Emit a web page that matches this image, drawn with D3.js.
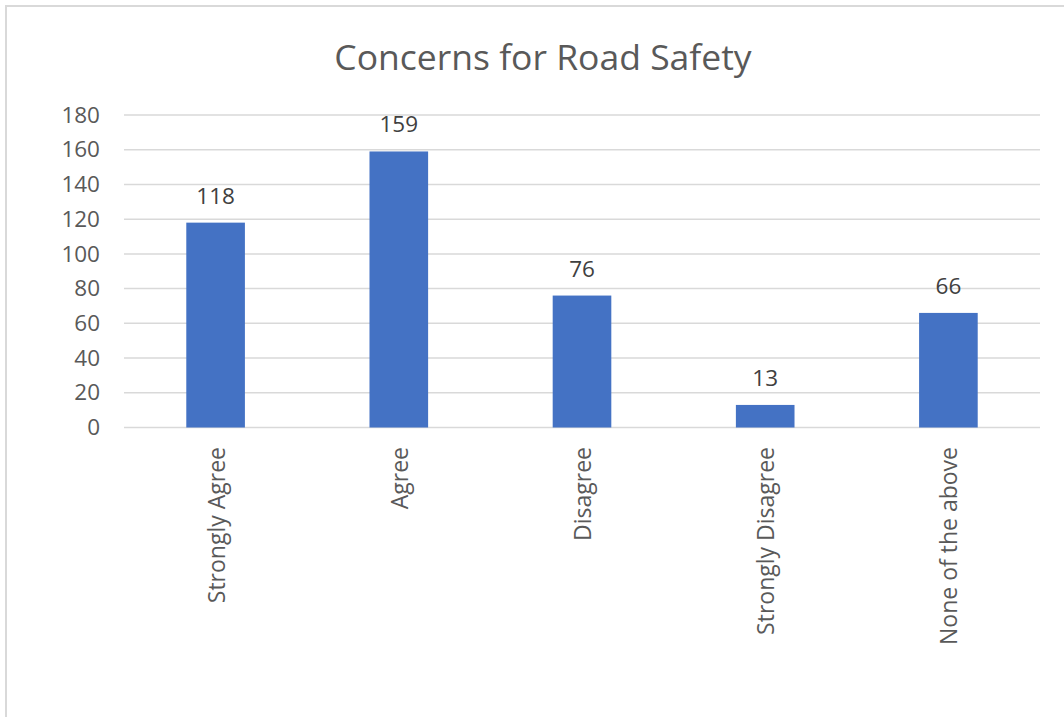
<!DOCTYPE html>
<html>
<head>
<meta charset="utf-8">
<script src="https://cdn.jsdelivr.net/npm/d3@7"></script>
<style>
  html, body { margin: 0; padding: 0; background: #fff; }
  svg { display: block; }
</style>
</head>
<body>
<svg id="chart" width="1064" height="717"></svg>
<script>
// Survey responses: concerns for road safety
const categories = ["Strongly Agree", "Agree", "Disagree", "Strongly Disagree", "None of the above"];
const counts = [118, 159, 76, 13, 66];
const yTicks = [0, 20, 40, 60, 80, 100, 120, 140, 160, 180];
const chartTitle = "Concerns for Road Safety";

const W = 1064, H = 717;
const font = "'Open Sans', 'DejaVu Sans', sans-serif";
const svg = d3.select("#chart");

// outer chart frame (top and left edges)
svg.append("path")
  .attr("d", `M6,${H} V6 H${W}`)
  .attr("fill", "none")
  .attr("stroke", "#d9d9d9")
  .attr("stroke-width", 2);

const plot = { left: 124, right: 1040, top: 115, bottom: 427.5 };

const x = d3.scaleBand()
  .domain(categories)
  .range([plot.left, plot.right])
  .paddingInner(0.68)
  .paddingOuter(0.34);

const y = d3.scaleLinear()
  .domain([0, 180])
  .range([plot.bottom, plot.top]);

// horizontal gridlines
svg.append("g")
  .selectAll("line")
  .data(yTicks)
  .join("line")
  .attr("x1", plot.left)
  .attr("x2", plot.right)
  .attr("y1", d => y(d))
  .attr("y2", d => y(d))
  .attr("stroke", "#d9d9d9")
  .attr("stroke-width", 1.5);

// y axis labels
const yAxis = svg.append("g")
  .attr("transform", `translate(${plot.left - 24},0)`)
  .call(d3.axisLeft(y).tickValues(yTicks).tickSize(0).tickPadding(0));
yAxis.select(".domain").remove();
yAxis.selectAll("text")
  .attr("font-family", font)
  .attr("font-size", 22.5)
  .attr("fill", "#595959");

// bars
svg.append("g")
  .selectAll("rect")
  .data(counts)
  .join("rect")
  .attr("x", (d, i) => x(categories[i]))
  .attr("width", x.bandwidth())
  .attr("y", d => y(d))
  .attr("height", d => y(0) - y(d))
  .attr("fill", "#4472c4");

// value labels
svg.append("g")
  .selectAll("text")
  .data(counts)
  .join("text")
  .attr("x", (d, i) => x(categories[i]) + x.bandwidth() / 2)
  .attr("y", d => y(d) - 19)
  .attr("text-anchor", "middle")
  .attr("font-family", font)
  .attr("font-size", 22.5)
  .attr("fill", "#404040")
  .text(d => d);

// rotated category labels
svg.append("g")
  .selectAll("text")
  .data(categories)
  .join("text")
  .attr("transform", d => `translate(${x(d) + x.bandwidth() / 2},447) rotate(-90)`)
  .attr("text-anchor", "end")
  .attr("dominant-baseline", "central")
  .attr("font-family", font)
  .attr("font-size", 23)
  .attr("fill", "#595959")
  .text(d => d);

// title
svg.append("text")
  .attr("x", 543)
  .attr("y", 70)
  .attr("text-anchor", "middle")
  .attr("font-family", font)
  .attr("font-size", 35.5)
  .attr("fill", "#595959")
  .text(chartTitle);
</script>
</body>
</html>
